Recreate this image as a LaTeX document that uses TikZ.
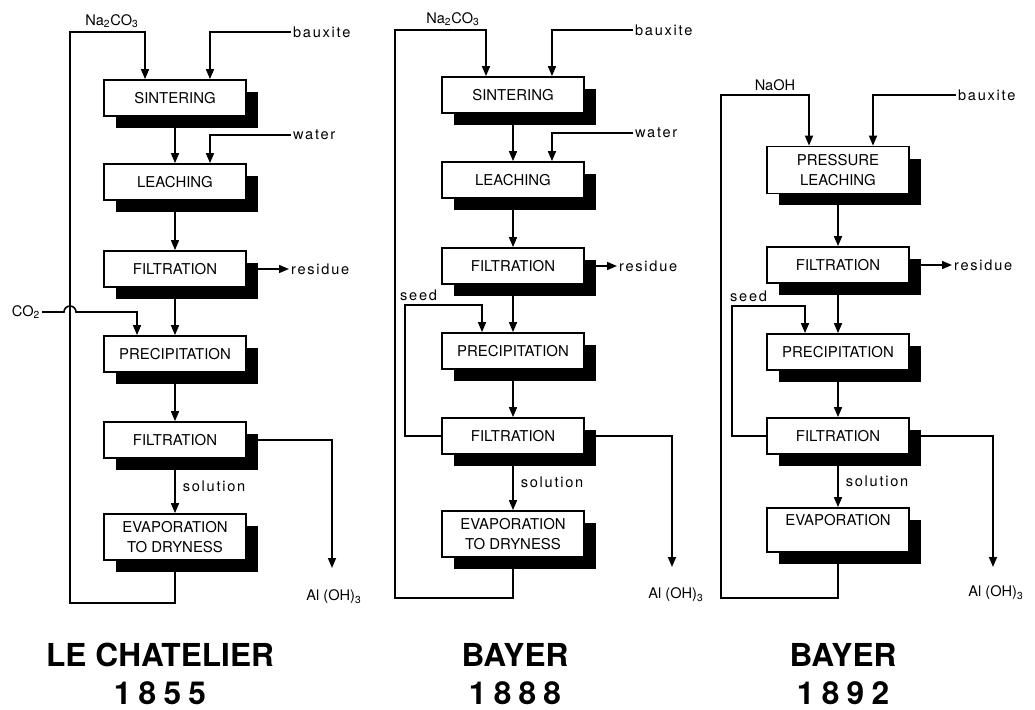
\documentclass[tikz,border=0pt]{standalone}
\usepackage{fontspec}
\setmainfont{TeX Gyre Heros}
\usetikzlibrary{arrows.meta,shadows}

\newcommand{\stagefont}{\fontsize{8.5}{11}\selectfont}
\newcommand{\flowfont}{\fontsize{8.3}{9.5}\selectfont}
\newcommand{\headfont}{\fontsize{18}{21}\selectfont\bfseries}

\begin{document}
\begin{tikzpicture}[x=0.02cm,y=-0.02cm,
  stage/.style={draw, fill=white, line width=1pt, minimum width=2.84cm, minimum height=0.72cm,
    inner sep=1pt, align=center, font=\stagefont,
    drop shadow={shadow xshift=0.24cm, shadow yshift=-0.24cm, fill=black, opacity=1}},
  flow/.style={line width=0.9pt, -{Triangle[length=0.2cm,width=0.16cm]}},
  tag/.style={font=\flowfont, inner sep=1pt},
  spaced/.style={font=\flowfont\addfontfeature{LetterSpace=12}, inner sep=1pt},
  title/.style={font=\headfont},
  year/.style={font=\headfont\addfontfeature{LetterSpace=23}}]
  \useasboundingbox (0,0) rectangle (1035,710);

  % Le Chatelier 1855
  \node[stage] (s1) at (175,98)  {SINTERING};
  \node[stage] (l1) at (175,182) {LEACHING};
  \node[stage] (f1) at (175,269) {FILTRATION};
  \node[stage] (p1) at (175,354) {PRECIPITATION};
  \node[stage] (g1) at (175,440) {FILTRATION};
  \node[stage,minimum height=0.92cm] (e1) at (175,537) {EVAPORATION\\TO DRYNESS};
  \node[tag,anchor=south] (na1) at (112,30) {Na\textsubscript{2}CO\textsubscript{3}};
  \node[spaced,anchor=west] (bx1) at (291,32) {bauxite};
  \node[spaced,anchor=west] (wt1) at (291,135) {water};
  \node[spaced,anchor=west] (rs1) at (289,269) {residue};
  \node[tag] (co1) at (26,312) {CO\textsubscript{2}};
  \node[tag] (ah1) at (334,597) {Al (OH)\textsubscript{3}};
  \coordinate (lt1) at (70,32);
  \coordinate (lb1) at (70,603);
  \coordinate (hp1) at (64,312);
  \coordinate (at1) at (332,568);
  \draw[flow] (s1) -- (l1);
  \draw[flow] (l1) -- (f1);
  \draw[flow] (f1) -- (p1);
  \draw[flow] (p1) -- (g1);
  \draw[flow] (g1) -- node[spaced,right=3pt] (so1) {solution} (e1);
  \draw[flow] (bx1.west) -| ([xshift=0.7cm]s1.north);
  \draw[flow] (wt1.west) -| ([xshift=0.7cm]l1.north);
  \draw[flow] (f1.east) -- (rs1.west);
  \draw[flow] (co1.east) -- (hp1) arc[start angle=180,end angle=0,radius=0.12cm] -| ([xshift=-0.76cm]p1.north);
  \draw[flow] (g1.east) -| (at1);
  \draw[flow] (e1.south) |- (lb1) -- (lt1) -| ([xshift=-0.6cm]s1.north);

  % Bayer 1888
  \node[stage] (s2) at (513,95)  {SINTERING};
  \node[stage] (l2) at (513,180) {LEACHING};
  \node[stage] (f2) at (513,266) {FILTRATION};
  \node[stage] (p2) at (513,351) {PRECIPITATION};
  \node[stage] (g2) at (513,436) {FILTRATION};
  \node[stage,minimum height=0.92cm] (e2) at (513,534) {EVAPORATION\\TO DRYNESS};
  \node[tag,anchor=south] (na2) at (453,28) {Na\textsubscript{2}CO\textsubscript{3}};
  \node[spaced,anchor=west] (bx2) at (633,30) {bauxite};
  \node[spaced,anchor=west] (wt2) at (633,133) {water};
  \node[spaced,anchor=west] (rs2) at (617,266) {residue};
  \node[spaced,anchor=south west] (sl2) at (398,303) {seed};
  \node[tag] (ah2) at (676,595) {Al (OH)\textsubscript{3}};
  \coordinate (lt2) at (395,30);
  \coordinate (lb2) at (395,598);
  \coordinate (sd2) at (405,305);
  \coordinate (at2) at (672,567);
  \draw[flow] (s2) -- (l2);
  \draw[flow] (l2) -- (f2);
  \draw[flow] (f2) -- (p2);
  \draw[flow] (p2) -- (g2);
  \draw[flow] (g2) -- node[spaced,right=3pt] (so2) {solution} (e2);
  \draw[flow] (bx2.west) -| ([xshift=0.78cm]s2.north);
  \draw[flow] (wt2.west) -| ([xshift=0.78cm]l2.north);
  \draw[flow] (f2.east) -- (rs2.west);
  \draw[flow] (g2.west) -| (sd2) -| ([xshift=-0.62cm]p2.north);
  \draw[flow] (g2.east) -| (at2);
  \draw[flow] (e2.south) |- (lb2) -- (lt2) -| ([xshift=-0.54cm]s2.north);

  % Bayer 1892
  \node[stage,minimum height=0.94cm] (s3) at (838,170) {PRESSURE\\LEACHING};
  \node[stage] (f3) at (838,265) {FILTRATION};
  \node[stage] (p3) at (838,352) {PRECIPITATION};
  \node[stage] (g3) at (838,436) {FILTRATION};
  \node[stage,minimum height=0.88cm] (e3) at (838,530) {EVAPORATION\\\phantom{X}};
  \node[tag,anchor=south] (na3) at (775,93) {NaOH};
  \node[spaced,anchor=west] (bx3) at (956,95) {bauxite};
  \node[spaced,anchor=west] (rs3) at (952,265) {residue};
  \node[spaced,anchor=south west] (sl3) at (728,304) {seed};
  \node[tag] (ah3) at (996,593) {Al (OH)\textsubscript{3}};
  \coordinate (lt3) at (721,95);
  \coordinate (lb3) at (721,598);
  \coordinate (sd3) at (732,306);
  \coordinate (at3) at (993,567);
  \draw[flow] (s3) -- (f3);
  \draw[flow] (f3) -- (p3);
  \draw[flow] (p3) -- (g3);
  \draw[flow] (g3) -- node[spaced,right=3pt] (so3) {solution} (e3);
  \draw[flow] (bx3.west) -| ([xshift=0.7cm]s3.north);
  \draw[flow] (f3.east) -- (rs3.west);
  \draw[flow] (g3.west) -| (sd3) -| ([xshift=-0.66cm]p3.north);
  \draw[flow] (g3.east) -| (at3);
  \draw[flow] (e3.south) |- (lb3) -- (lt3) -| ([xshift=-0.58cm]s3.north);

  % titles
  \node[title] (t1) at (160,655) {LE CHATELIER};
  \node[year]  (y1) at (160,693) {1855};
  \node[title] (t2) at (515,655) {BAYER};
  \node[year]  (y2) at (515,693) {1888};
  \node[title] (t3) at (843,655) {BAYER};
  \node[year]  (y3) at (843,693) {1892};
\end{tikzpicture}
\end{document}
